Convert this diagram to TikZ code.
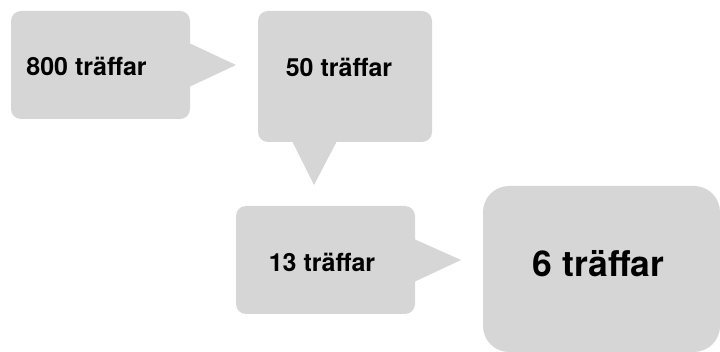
\documentclass[tikz,border=0pt]{standalone}
\usepackage{fontspec}
\setmainfont{TeX Gyre Heros}
\definecolor{boxgray}{RGB}{214,214,214}
\begin{document}
\begin{tikzpicture}[x=1pt,y=-1pt,
  bubble/.style={fill=boxgray,rounded corners=10pt},
  pointer/.style={fill=boxgray},
  lbl/.style={inner sep=0pt,anchor=base,font=\bfseries\fontsize{25}{30}\selectfont},
  biglbl/.style={inner sep=0pt,anchor=base,font=\bfseries\fontsize{35.5}{42}\selectfont}]
\useasboundingbox (0,0) rectangle (720,352);
% box 1
\fill[bubble] (11,11) rectangle (190,119);
\fill[pointer] (189,43) -- (236,65) -- (189,87) -- cycle;
% box 2
\fill[bubble] (258,11) rectangle (432,142);
\fill[pointer] (292,141) -- (314,185) -- (337,141) -- cycle;
% box 3
\fill[bubble] (236,206) rectangle (415,314);
\fill[pointer] (414,239) -- (461,260) -- (414,282) -- cycle;
% box 4
\fill[boxgray,rounded corners=26pt] (483,186) rectangle (720,352);
% labels
\node[lbl] (t800) at (86.5,76) {800 träffar};
\node[lbl] (t50) at (339,77) {50 träffar};
\node[lbl] (t13) at (322,272) {13 träffar};
\node[biglbl] (t6) at (598.5,277) {6 träffar};
\end{tikzpicture}
\end{document}
